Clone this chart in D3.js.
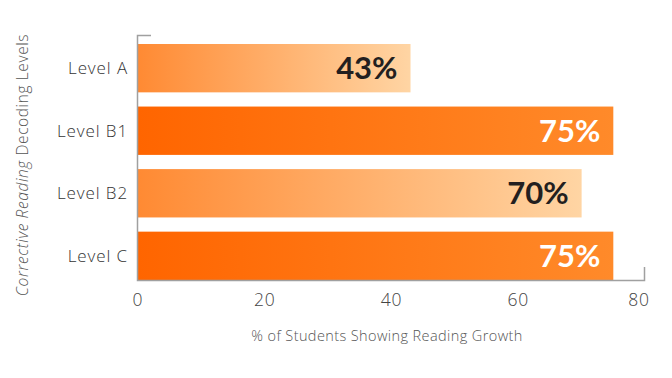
<!DOCTYPE html>
<html><head><meta charset="utf-8">
<script src="https://cdn.jsdelivr.net/npm/d3@7"></script>
<style>body{margin:0;background:#fff}svg{display:block}</style>
</head><body>
<svg id="c" width="672" height="378"></svg>
<script>
const categories = ["Level A", "Level B1", "Level B2", "Level C"];
const values = [43, 75, 70, 75];
const labels = ["43%", "75%", "70%", "75%"];
const styles = ["light", "dark", "light", "dark"];
const xTicks = [0, 20, 40, 60, 80];

const svg = d3.select("#c");
const font = "'Open Sans', Lato, sans-serif";
const bold = "Lato, 'Open Sans', sans-serif";
const x = d3.scaleLinear().domain([0, 80]).range([138, 645]);
const y = d3.scaleBand().domain(categories).range([44, 280]).paddingInner(0.227).paddingOuter(0);

const defs = svg.append("defs");
const gl = defs.append("linearGradient").attr("id", "gLight").attr("x1", 0).attr("x2", 1).attr("y1", 0).attr("y2", 0);
gl.append("stop").attr("offset", 0).attr("stop-color", "#ff8a33");
gl.append("stop").attr("offset", 1).attr("stop-color", "#ffd5a4");
const gd = defs.append("linearGradient").attr("id", "gDark").attr("x1", 0).attr("x2", 1).attr("y1", 0).attr("y2", 0);
gd.append("stop").attr("offset", 0).attr("stop-color", "#ff6500");
gd.append("stop").attr("offset", 1).attr("stop-color", "#ff8a2a");

const data = categories.map((c, i) => ({c, v: values[i], l: labels[i], s: styles[i]}));

svg.append("g").selectAll("rect").data(data).join("rect")
  .attr("x", x(0)).attr("y", d => y(d.c))
  .attr("width", d => x(d.v) - x(0)).attr("height", y.bandwidth())
  .attr("fill", d => d.s === "light" ? "url(#gLight)" : "url(#gDark)");

svg.append("g").selectAll("text").data(data).join("text")
  .attr("x", d => x(d.v) - 13).attr("y", d => y(d.c) + y.bandwidth() / 2)
  .attr("dy", "0.36em").attr("text-anchor", "end")
  .attr("font-family", bold).attr("font-weight", 700).attr("font-size", 31)
  .attr("fill", d => d.s === "light" ? "#231f20" : "#ffffff")
  .text(d => d.l);

// axes lines
svg.append("path").attr("d", `M${x(0)+13},35.5H${x(0)-0.5}V280.5H${x(80)-0.5}V267`)
  .attr("fill", "none").attr("stroke", "#a0a0a0").attr("stroke-width", 1.5);

// y labels
svg.append("g").selectAll("text").data(categories).join("text")
  .attr("x", 128).attr("y", d => y(d) + y.bandwidth() / 2).attr("dy", "0.36em")
  .attr("text-anchor", "end").attr("font-family", font).attr("font-weight", 300).attr("font-size", 17)
  .attr("letter-spacing", 0.9)
  .attr("fill", "#333").text(d => d);

// x tick labels
svg.append("g").selectAll("text").data(xTicks).join("text")
  .attr("x", d => x(d) - (d === 80 ? 6 : 0)).attr("y", 306)
  .attr("text-anchor", "middle").attr("font-family", font).attr("font-weight", 300).attr("font-size", 17.5)
  .attr("letter-spacing", 0.8)
  .attr("fill", "#444").text(d => d);

// x title
svg.append("text").attr("x", 387).attr("y", 341).attr("text-anchor", "middle")
  .attr("font-family", font).attr("font-weight", 300).attr("font-size", 14.5).attr("letter-spacing", 0.4)
  .attr("fill", "#555")
  .text("% of Students Showing Reading Growth");

// y title
const yt = svg.append("text").attr("transform", "translate(28,165) rotate(-90)")
  .attr("text-anchor", "middle").attr("font-family", font).attr("font-weight", 300).attr("font-size", 15.5)
  .attr("letter-spacing", 0.6).attr("fill", "#555");
yt.append("tspan").attr("font-style", "italic").text("Corrective Reading");
yt.append("tspan").text(" Decoding Levels");
</script>
</body></html>
